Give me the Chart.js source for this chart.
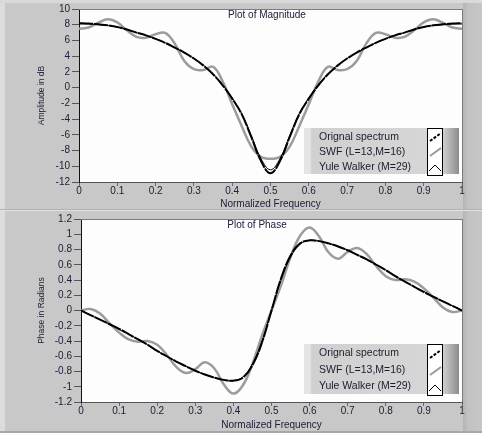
<!DOCTYPE html>
<html>
<head>
<meta charset="utf-8">
<script src="https://cdn.jsdelivr.net/npm/chart.js@4.4.0/dist/chart.umd.min.js"></script>
<style>
body { margin:0; background:#fff; width:482px; height:435px; overflow:hidden; font-family:"Liberation Sans", Arial, sans-serif; }
#panel { position:absolute; left:0; top:0; width:482px; height:433px; background:#c8c8c8; }
#lstrip { position:absolute; left:0; top:0; width:5px; height:433px; background:#dcdcdc; }
#tstrip { position:absolute; left:0; top:0; width:482px; height:3px; background:#d9d9d9; }
#rstrip { position:absolute; left:463px; top:3px; width:19px; height:428px; background:linear-gradient(to right,#b4b4b4 0,#c2c2c2 5px,#c6c6c6 100%); }
#sep1 { position:absolute; left:0; top:209px; width:482px; height:1px; background:#b2b2b2; }
#sep2 { position:absolute; left:0; top:210px; width:482px; height:1px; background:#e2e2e2; }
#bline { position:absolute; left:0; top:431px; width:482px; height:2px; background:#a8a8a8; }
canvas { position:absolute; left:0; }
#c1 { top:0; }
#c2 { top:210px; }
.leg { position:absolute; left:304px; width:155px; }
.leg .txt { position:absolute; left:0; top:0; width:123px; height:100%;
  background:linear-gradient(to right,#e4e4e4 0,#e4e4e4 6px,#d0d0d0 8px,#d6d6d6 100%); }
.leg .txt div { position:absolute; left:15px; font-size:10.5px; color:#1c1c2e; line-height:12px; white-space:nowrap; }
.leg .sw { position:absolute; left:123px; top:0; width:14px; height:100%; background:#fff; border:1px solid #000; }
.leg .end { position:absolute; left:139px; top:0; width:16px; height:100%; background:linear-gradient(to right,#d0d0d0,#8c8c8c); }
.leg svg { position:absolute; left:0; top:0; }
</style>
</head>
<body>
<div id="panel"></div>
<div id="lstrip"></div>
<div id="tstrip"></div>
<div id="rstrip"></div>
<div id="sep1"></div>
<div id="sep2"></div>
<div id="bline"></div>
<canvas id="c1" width="482" height="210"></canvas>
<canvas id="c2" width="482" height="221"></canvas>

<div class="leg" style="top:128px;height:46px">
  <div class="txt">
    <div style="top:2px">Orignal spectrum</div>
    <div style="top:17px">SWF (L=13,M=16)</div>
    <div style="top:32px">Yule Walker (M=29)</div>
  </div>
  <div class="sw"><svg width="14" height="44">
    <line x1="2" y1="12" x2="13" y2="4" stroke="#000" stroke-width="2" stroke-dasharray="3,1.5"/>
    <line x1="2" y1="27" x2="13" y2="19" stroke="#999" stroke-width="2"/>
    <polyline points="1,42 7,36 13,42" fill="none" stroke="#000" stroke-width="1"/>
  </svg></div>
  <div class="end"></div>
</div>

<div class="leg" style="top:344px;height:50px">
  <div class="txt">
    <div style="top:2px">Orignal spectrum</div>
    <div style="top:19px">SWF (L=13,M=16)</div>
    <div style="top:35px">Yule Walker (M=29)</div>
  </div>
  <div class="sw"><svg width="14" height="48">
    <line x1="2" y1="13" x2="13" y2="5" stroke="#000" stroke-width="2" stroke-dasharray="3,1.5"/>
    <line x1="2" y1="30" x2="13" y2="22" stroke="#999" stroke-width="2"/>
    <polyline points="1,46 7,40 13,46" fill="none" stroke="#000" stroke-width="1"/>
  </svg></div>
  <div class="end"></div>
</div>

<script>
var freq = [0, 0.025, 0.05, 0.075, 0.1, 0.125, 0.15, 0.175, 0.2, 0.225,
  0.25, 0.275, 0.3, 0.325, 0.35, 0.375, 0.4, 0.425, 0.45, 0.475,
  0.5, 0.525, 0.55, 0.575, 0.6, 0.625, 0.65, 0.675, 0.7, 0.725,
  0.75, 0.775, 0.8, 0.825, 0.85, 0.875, 0.9, 0.925, 0.95, 0.975, 1];

var magOrig = [8.2, 8.15, 8.05, 7.92, 7.72, 7.4, 7.0, 6.65, 6.2, 5.7,
  5.1, 4.45, 3.7, 2.8, 1.7, 0.3, -1.4, -3.4, -6.3, -9.3,
  -10.9, -9.3, -6.3, -3.4, -1.4, 0.3, 1.7, 2.8, 3.7, 4.45,
  5.1, 5.7, 6.2, 6.65, 7.0, 7.4, 7.72, 7.92, 8.05, 8.15, 8.2];
var magSwf = [7.5, 7.65, 8.25, 8.7, 8.3, 7.3, 6.45, 6.35, 6.8, 6.95,
  5.6, 3.4, 2.35, 2.25, 2.65, 0.8, -2.1, -4.9, -7.5, -8.8,
  -9.05, -8.8, -7.5, -4.9, -2.1, 0.8, 2.65, 2.25, 2.35, 3.4,
  5.6, 6.95, 6.8, 6.35, 6.45, 7.3, 8.3, 8.7, 8.25, 7.65, 7.5];
var magYule = [8.1, 8.1, 8.0, 7.9, 7.7, 7.4, 7.0, 6.65, 6.2, 5.7,
  5.1, 4.45, 3.7, 2.85, 1.75, 0.4, -1.3, -3.3, -6.1, -9.0,
  -10.45, -9.0, -6.1, -3.3, -1.3, 0.4, 1.75, 2.85, 3.7, 4.45,
  5.1, 5.7, 6.2, 6.65, 7.0, 7.4, 7.7, 7.9, 8.0, 8.1, 8.1];

var phOrig = [0, -0.06, -0.12, -0.18, -0.24, -0.31, -0.38, -0.45, -0.53, -0.6,
  -0.67, -0.73, -0.79, -0.84, -0.88, -0.91, -0.92, -0.88, -0.72, -0.42,
  0, 0.42, 0.72, 0.88, 0.92, 0.91, 0.88, 0.84, 0.79, 0.73,
  0.67, 0.6, 0.53, 0.45, 0.38, 0.31, 0.24, 0.18, 0.12, 0.06, 0];
var phSwf = [0, 0.02, -0.04, -0.17, -0.29, -0.38, -0.41, -0.4, -0.45, -0.58,
  -0.74, -0.82, -0.77, -0.68, -0.76, -0.97, -1.09, -0.98, -0.7, -0.33,
  0, 0.33, 0.7, 0.98, 1.09, 0.97, 0.76, 0.68, 0.77, 0.82,
  0.74, 0.58, 0.45, 0.4, 0.41, 0.38, 0.29, 0.17, 0.04, -0.02, 0];
var phYule = [0, -0.06, -0.12, -0.18, -0.25, -0.31, -0.38, -0.45, -0.53, -0.6,
  -0.67, -0.73, -0.79, -0.84, -0.88, -0.91, -0.92, -0.87, -0.7, -0.4,
  0, 0.4, 0.7, 0.87, 0.92, 0.91, 0.88, 0.84, 0.79, 0.73,
  0.67, 0.6, 0.53, 0.45, 0.38, 0.31, 0.25, 0.18, 0.12, 0.06, 0];

var FONT = '"Liberation Sans", Arial, sans-serif';
var TXT = '#20203a';

function pts(arr) {
  return freq.map(function (f, i) { return { x: f, y: arr[i] }; });
}

// white plot area, frame and the title inside the plot
var frame = {
  id: 'frame',
  beforeDraw: function (chart) {
    var ctx = chart.ctx, a = chart.chartArea;
    ctx.save();
    ctx.fillStyle = '#fdfdfd';
    ctx.fillRect(a.left, a.top, a.right - a.left, a.bottom - a.top);
    ctx.restore();
  },
  afterDraw: function (chart, args, opts) {
    var ctx = chart.ctx, a = chart.chartArea;
    ctx.save();
    ctx.strokeStyle = '#7c7c7c';
    ctx.lineWidth = 1;
    ctx.beginPath();
    ctx.moveTo(a.left, a.top + 0.5); ctx.lineTo(a.right, a.top + 0.5);
    ctx.moveTo(a.right + 0.5, a.top); ctx.lineTo(a.right + 0.5, a.bottom);
    ctx.stroke();
    ctx.fillStyle = TXT;
    ctx.font = '10px ' + FONT;
    ctx.textAlign = 'center';
    ctx.textBaseline = 'middle';
    ctx.fillText(opts.text, opts.x, opts.y);
    ctx.restore();
  }
};

function makeChart(id, o, s, y, yTitle, ymin, ymax, ystep, yw, xh, title, tx) {
  return new Chart(document.getElementById(id), {
    type: 'line',
    data: {
      datasets: [
        { label: 'Orignal spectrum', data: pts(o), borderColor: '#000', borderWidth: 2, borderDash: [14, 1], order: 0 },
        { label: 'Yule Walker (M=29)', data: pts(y), borderColor: '#000', borderWidth: 1, order: 1 },
        { label: 'SWF (L=13,M=16)', data: pts(s), borderColor: '#9c9c9c', borderWidth: 2.5, order: 2 }
      ]
    },
    options: {
      responsive: false,
      animation: false,
      devicePixelRatio: 1,
      layout: { padding: { left: 37, right: 20, top: 9, bottom: 0 } },
      elements: { point: { radius: 0 }, line: { tension: 0.4, fill: false } },
      plugins: {
        legend: { display: false },
        tooltip: { enabled: false },
        frame: { text: title, x: tx, y: 15 }
      },
      scales: {
        x: {
          type: 'linear', min: 0, max: 1,
          afterFit: function (sc) { sc.height = xh; },
          ticks: { stepSize: 0.1, padding: -1, color: TXT, font: { family: FONT, size: 10 },
            maxRotation: 0, callback: function (v) { return String(Math.round(v * 10) / 10); } },
          grid: { drawOnChartArea: false, tickLength: 4, color: '#666' },
          border: { display: true, color: '#555' },
          title: { display: true, text: 'Normalized Frequency', color: TXT, padding: 0, font: { family: FONT, size: 10 } }
        },
        y: {
          min: ymin, max: ymax,
          afterFit: function (sc) { sc.width = yw; },
          ticks: { stepSize: ystep, padding: 2, color: TXT, font: { family: FONT, size: 10 },
            callback: function (v) { return String(Math.round(v * 10) / 10); } },
          grid: { drawOnChartArea: false, tickLength: 7, color: '#555' },
          border: { display: true, color: '#111' },
          title: { display: true, text: yTitle, color: TXT, padding: 0, font: { family: FONT, size: 8.5 } }
        }
      }
    },
    plugins: [frame]
  });
}

makeChart('c1', magOrig, magSwf, magYule, 'Amplitude in dB', -12, 10, 2, 42, 28, 'Plot of Magnitude', 267);
makeChart('c2', phOrig, phSwf, phYule, 'Phase in Radians', -1.2, 1.2, 0.2, 44, 29, 'Plot of Phase', 257);
</script>
</body>
</html>
